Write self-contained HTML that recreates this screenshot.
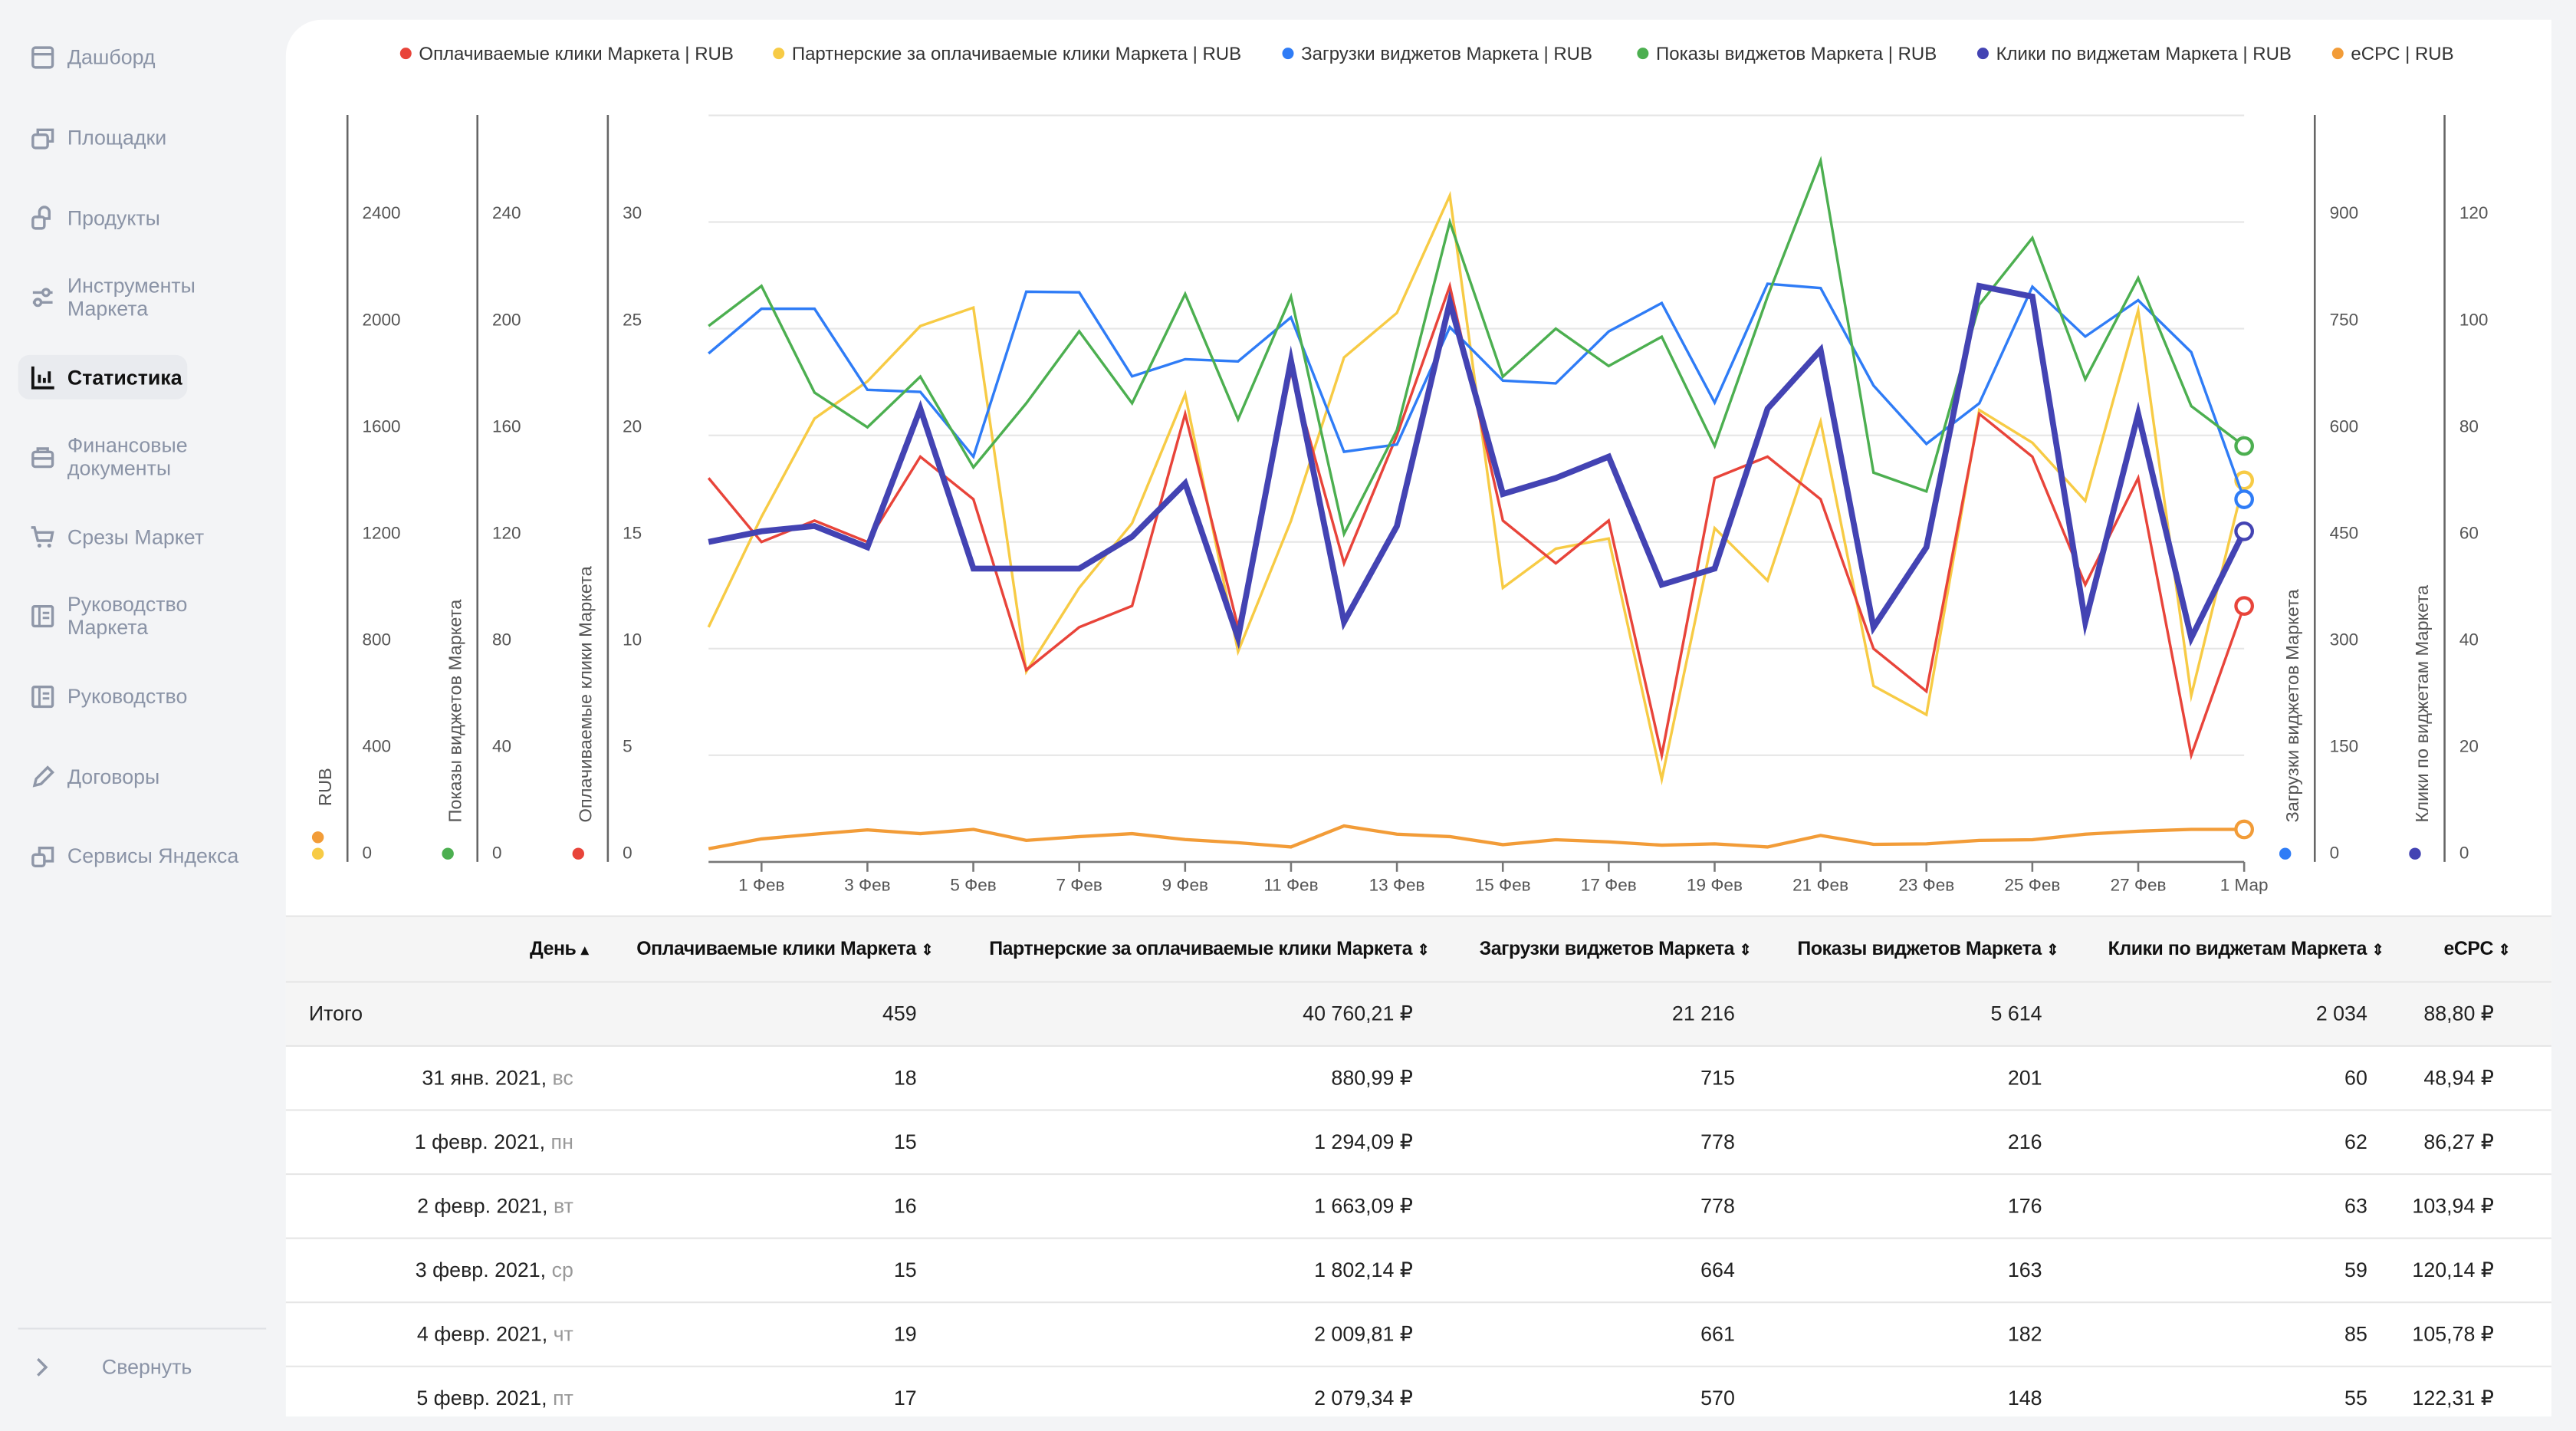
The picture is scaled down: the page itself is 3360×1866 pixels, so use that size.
<!DOCTYPE html>
<html><head><meta charset="utf-8">
<style>
html,body{margin:0;padding:0;background:#f3f4f6;overflow:hidden}
body{width:3360px;height:1832px}
#root{position:absolute;left:0;top:0;width:1568px;height:855px;transform:scale(2.142857);transform-origin:0 0;font-family:"Liberation Sans",sans-serif;background:#f3f4f6}
.nav{position:absolute;left:0;top:0;width:170px;height:855px}
.ni{position:absolute;left:18px;display:flex;align-items:center;color:#8a93a6;font-size:12.5px;line-height:14px}
.ni svg{width:16px;height:16px;margin-right:7px;flex:none}
.ni.sel{color:#111;font-weight:bold}
.card{position:absolute;left:174px;top:12px;width:1379px;height:850px;background:#fff;border-radius:22px 0 0 0;overflow:hidden}
.tbl{position:absolute;left:174px;top:557px;width:1379px}
.row{position:absolute;left:0;width:1379px;height:39px;border-top:1px solid #e6e6e6;font-size:12.5px;color:#222}
.row div{position:absolute;top:0;line-height:39px;white-space:nowrap}
.r{text-align:right}
.hd{background:#f5f5f5;font-weight:bold;font-size:11.6px;color:#111;letter-spacing:-0.2px}
.tot{background:#f5f5f5}
.wd{color:#999}
</style></head><body>
<div id="root">
<div class="nav">
  <div class="ni" style="top:27px"><svg viewBox="0 0 16 16"><rect x="2" y="2" width="12" height="12" rx="1.5" fill="none" stroke="#8f97a8" stroke-width="1.6"/><line x1="2" y1="6" x2="14" y2="6" stroke="#8f97a8" stroke-width="1.6"/></svg>Дашборд</div>
  <div class="ni" style="top:76px"><svg viewBox="0 0 16 16"><rect x="2" y="6" width="9" height="8" rx="1.5" fill="none" stroke="#8f97a8" stroke-width="1.6"/><path d="M5 6V3h9v7h-3" fill="none" stroke="#8f97a8" stroke-width="1.6"/></svg>Площадки</div>
  <div class="ni" style="top:125px"><svg viewBox="0 0 16 16"><rect x="2" y="7" width="7" height="7" rx="1.5" fill="none" stroke="#8f97a8" stroke-width="1.6"/><path d="M6 7V4a3 3 0 0 1 6 0v4h-3" fill="none" stroke="#8f97a8" stroke-width="1.6"/></svg>Продукты</div>
  <div class="ni" style="top:167px"><svg viewBox="0 0 16 16"><path d="M2 5h12M2 11h12" stroke="#8f97a8" stroke-width="1.6"/><circle cx="10" cy="5" r="2" fill="#f3f4f6" stroke="#8f97a8" stroke-width="1.6"/><circle cx="5" cy="11" r="2" fill="#f3f4f6" stroke="#8f97a8" stroke-width="1.6"/></svg>Инструменты<br>Маркета</div>
  <div style="position:absolute;left:11px;top:216px;width:103px;height:27px;background:#e9ebef;border-radius:7px"></div>
  <div class="ni sel" style="top:222px"><svg viewBox="0 0 16 16"><path d="M2 1v13h13" fill="none" stroke="#111" stroke-width="1.8"/><path d="M6 6v5M9 8v3M12 4v7" stroke="#111" stroke-width="1.8"/></svg>Статистика</div>
  <div class="ni" style="top:264px"><svg viewBox="0 0 16 16"><rect x="2" y="5" width="12" height="9" rx="1.5" fill="none" stroke="#8f97a8" stroke-width="1.6"/><path d="M5 5V3h6v2M2 9h12" fill="none" stroke="#8f97a8" stroke-width="1.6"/></svg>Финансовые<br>документы</div>
  <div class="ni" style="top:319px"><svg viewBox="0 0 16 16"><path d="M1 2h2l2 8h8l1-5H4" fill="none" stroke="#8f97a8" stroke-width="1.6"/><circle cx="6" cy="13" r="1.2" fill="#8f97a8"/><circle cx="12" cy="13" r="1.2" fill="#8f97a8"/></svg>Срезы Маркет</div>
  <div class="ni" style="top:361px"><svg viewBox="0 0 16 16"><rect x="2" y="2" width="12" height="12" rx="1" fill="none" stroke="#8f97a8" stroke-width="1.6"/><path d="M6 2v12M8 6h4M8 9h4" stroke="#8f97a8" stroke-width="1.4"/></svg>Руководство<br>Маркета</div>
  <div class="ni" style="top:416px"><svg viewBox="0 0 16 16"><rect x="2" y="2" width="12" height="12" rx="1" fill="none" stroke="#8f97a8" stroke-width="1.6"/><path d="M6 2v12M8 6h4M8 9h4" stroke="#8f97a8" stroke-width="1.4"/></svg>Руководство</div>
  <div class="ni" style="top:465px"><svg viewBox="0 0 16 16"><path d="M3 13l1-4 7-7 3 3-7 7z" fill="none" stroke="#8f97a8" stroke-width="1.6"/></svg>Договоры</div>
  <div class="ni" style="top:513px"><svg viewBox="0 0 16 16"><rect x="2" y="7" width="7" height="7" rx="1.5" fill="none" stroke="#8f97a8" stroke-width="1.6"/><path d="M6 7V3h8v8h-5" fill="none" stroke="#8f97a8" stroke-width="1.6"/></svg>Сервисы Яндекса</div>
  <div style="position:absolute;left:11px;top:808px;width:151px;height:1px;background:#dfe1e5"></div>
  <div class="ni" style="top:824px;left:18px"><svg viewBox="0 0 16 16" style="margin-right:28px"><path d="M5 3l5 5-5 5" fill="none" stroke="#8f97a8" stroke-width="1.6"/></svg>Свернуть</div>
</div>
<div class="card"></div>
<svg id="chart" style="position:absolute;left:0;top:0" width="1568" height="557" viewBox="0 0 1568 557" font-family="Liberation Sans, sans-serif"></svg>
<div class="tbl" id="tbl"></div>
</div>
<script>
const categories=['31 Янв','1 Фев','2 Фев','3 Фев','4 Фев','5 Фев','6 Фев','7 Фев','8 Фев','9 Фев','10 Фев','11 Фев','12 Фев','13 Фев','14 Фев','15 Фев','16 Фев','17 Фев','18 Фев','19 Фев','20 Фев','21 Фев','22 Фев','23 Фев','24 Фев','25 Фев','26 Фев','27 Фев','28 Фев','1 Мар'];
const tickLabels=['1 Фев','3 Фев','5 Фев','7 Фев','9 Фев','11 Фев','13 Фев','15 Фев','17 Фев','19 Фев','21 Фев','23 Фев','25 Фев','27 Фев','1 Мар'];
const paidClicks=[18,15,16,15,19,17,9,11,12,21,11,23,14,20,27,16,14,16,5,18,19,17,10,8,21,19,13,18,5,12];
const partnerRub=[881,1294,1663,1802,2010,2079,714,1028,1270,1754,789,1279,1892,2059,2499,1028,1175,1213,310,1252,1055,1652,660,552,1695,1572,1354,2068,624,1431];
const widgetLoads=[715,778,778,664,661,570,802,801,683,707,704,766,577,587,752,677,673,746,786,646,813,807,670,588,645,809,739,790,717,510];
const widgetShows=[201,216,176,163,182,148,172,199,172,213,166,212,123,162,240,182,200,186,197,156,212,263,146,139,209,234,181,219,171,156];
const widgetClicks=[60,62,63,59,85,55,55,55,61,71,42,94,45,63,105,69,72,76,52,55,85,96,44,59,108,106,45,84,42,62];
const ecpc=[49,86,104,120,106,122,81,95,106,84,72,56,135,104,95,65,83,75,63,68,56,99,66,68,81,83,104,115,122,122];
const rubTicks=[0,400,800,1200,1600,2000,2400];
const showTicks=[0,40,80,120,160,200,240];
const clickTicks=[0,5,10,15,20,25,30];
const loadTicks=[0,150,300,450,600,750,900];
const wclickTicks=[0,20,40,60,80,100,120];
const legendNames=['Оплачиваемые клики Маркета | RUB','Партнерские за оплачиваемые клики Маркета | RUB','Загрузки виджетов Маркета | RUB','Показы виджетов Маркета | RUB','Клики по виджетам Маркета | RUB','eCPC | RUB'];

const NS='http://www.w3.org/2000/svg';
const svg=document.getElementById('chart');
const X0=431.3,X1=1366,BASE=524.5,STEP=64.9;
function xAt(i){return X0+(X1-X0)*i/(categories.length-1);}
function yAt(v,ticks){return BASE-v/ticks[ticks.length-1]*(ticks.length-1)*STEP;}
function mk(tag,attrs,parent){const e=document.createElementNS(NS,tag);for(const k in attrs)e.setAttribute(k,attrs[k]);(parent||svg).appendChild(e);return e;}
const C={red:'#e8443a',yellow:'#f7cb45',blue:'#2f7cf6',green:'#4caf50',dk:'#4343b3',orange:'#f29c38'};

for(let k=1;k<=7;k++){const g=mk('line',{x1:X0,x2:X1,y1:BASE-k*STEP,y2:BASE-k*STEP,stroke:'#e6e6e6','stroke-width':1});

}
const xa=mk('line',{x1:X0,x2:X1,y1:BASE,y2:BASE,stroke:'#777','stroke-width':1.2});


tickLabels.forEach(lbl=>{const i=categories.indexOf(lbl);const x=xAt(i);
 const t=mk('line',{x1:x,x2:x,y1:BASE,y2:BASE+6,stroke:'#777','stroke-width':1.2});
 
 
 const tx=mk('text',{x:x,y:542,'text-anchor':'middle','font-size':10.5,fill:'#555'});tx.textContent=lbl;
 
 
});
function yAxis(ax,ticks,title,dots,name){
 const l=mk('line',{x1:ax,x2:ax,y1:70,y2:BASE,stroke:'#666','stroke-width':1.2});
 
 
 ticks.forEach(v=>{const t=mk('text',{x:ax+9,y:yAt(v,ticks)-2,'font-size':10.5,fill:'#555'});t.textContent=v;
  
  });
 const tx=ax-14;
 const tt=mk('text',{x:0,y:0,'font-size':11,fill:'#555',transform:`translate(${tx+4},${BASE-24-(dots.length-1)*10}) rotate(-90)`});tt.textContent=title;
 
 
 dots.forEach((c,j)=>{const d=mk('circle',{cx:tx-4,cy:BASE-5-(dots.length-1-j)*10,r:3.6,fill:c});
  
  });
}
yAxis(211.5,rubTicks,'RUB',[C.orange,C.yellow],'rub-axis');
yAxis(290.6,showTicks,'Показы виджетов Маркета',[C.green],'shows-axis');
yAxis(370,clickTicks,'Оплачиваемые клики Маркета',[C.red],'clicks-axis');
yAxis(1409,loadTicks,'Загрузки виджетов Маркета',[C.blue],'loads-axis');
yAxis(1488,wclickTicks,'Клики по виджетам Маркета',[C.dk],'widget-clicks-axis');

function series(vals,ticks,color,w,name){
 const pts=vals.map((v,i)=>xAt(i).toFixed(1)+','+yAt(v,ticks).toFixed(1)).join(' ');
 const p=mk('polyline',{points:pts,fill:'none',stroke:color,'stroke-width':w,'stroke-linejoin':'miter','stroke-miterlimit':10});
 
 
 const n=vals.length-1;
 const c=mk('circle',{cx:xAt(n),cy:yAt(vals[n],ticks),r:5,fill:'#fff',stroke:color,'stroke-width':2});
 
 
}
series(ecpc,rubTicks,C.orange,2,'ecpc');
series(partnerRub,rubTicks,C.yellow,1.6,'partner-rub');
series(paidClicks,clickTicks,C.red,1.6,'paid-clicks');
series(widgetLoads,loadTicks,C.blue,1.6,'widget-loads');
series(widgetShows,showTicks,C.green,1.6,'widget-shows');
series(widgetClicks,wclickTicks,C.dk,3.6,'widget-clicks');

const legendX=[247,474,784,1000,1207,1423];
const legendC=[C.red,C.yellow,C.blue,C.green,C.dk,C.orange];
legendNames.forEach((n,i)=>{
 const d=mk('circle',{cx:legendX[i],cy:32.5,r:3.5,fill:legendC[i]});
 
 
 const t=mk('text',{x:legendX[i]+8,y:36.5,'font-size':11.2,fill:'#333'});t.textContent=n;
 
 
});

const tbl=document.getElementById('tbl');
const headRights=[184,394,696,892,1079,1277,1354];
const valRights=[175,384,686,882,1069,1267,1344];
const heads=['День ▴','Оплачиваемые клики Маркета ⇕','Партнерские за оплачиваемые клики Маркета ⇕','Загрузки виджетов Маркета ⇕','Показы виджетов Маркета ⇕','Клики по виджетам Маркета ⇕','eCPC ⇕'];
const days=[['31 янв. 2021, ','вс'],['1 февр. 2021, ','пн'],['2 февр. 2021, ','вт'],['3 февр. 2021, ','ср'],['4 февр. 2021, ','чт'],['5 февр. 2021, ','пт']];
const partnerTxt=['880,99 ₽','1 294,09 ₽','1 663,09 ₽','1 802,14 ₽','2 009,81 ₽','2 079,34 ₽'];
const ecpcTxt=['48,94 ₽','86,27 ₽','103,94 ₽','120,14 ₽','105,78 ₽','122,31 ₽'];
function row(top,cls,name){const r=document.createElement('div');r.className='row '+cls;r.style.top=top+'px';
 
 
 tbl.appendChild(r);return r;}
function cell(r,right,html,name,inter){const c=document.createElement('div');c.className='r';c.style.right=(1379-right)+'px';c.innerHTML=html;
 
 
 r.appendChild(c);return c;}
const h=row(0,'hd','table-header');
heads.forEach((t,i)=>{cell(h,headRights[i],t.replace(/ (▴|⇕)$/,' <span style="font-size:9px">$1</span>'),'column-header',true);});
const tr=row(40,'tot','total-row');
const tl=document.createElement('div');tl.style.left='14px';tl.textContent='Итого';


tr.appendChild(tl);
['459','40 760,21 ₽','21 216','5 614','2 034','88,80 ₽'].forEach((v,i)=>cell(tr,valRights[i+1],v,'total-cell',false));
days.forEach((d,k)=>{const r=row(79+k*39,'','data-row');
 cell(r,valRights[0],d[0]+'<span class="wd">'+d[1]+'</span>','day-cell',false);
 cell(r,valRights[1],paidClicks[k],'paid-clicks-cell',false);
 cell(r,valRights[2],partnerTxt[k],'partner-cell',false);
 cell(r,valRights[3],widgetLoads[k],'loads-cell',false);
 cell(r,valRights[4],widgetShows[k],'shows-cell',false);
 cell(r,valRights[5],widgetClicks[k],'widget-clicks-cell',false);
 cell(r,valRights[6],ecpcTxt[k],'ecpc-cell',false);
});
</script>
</body></html>
